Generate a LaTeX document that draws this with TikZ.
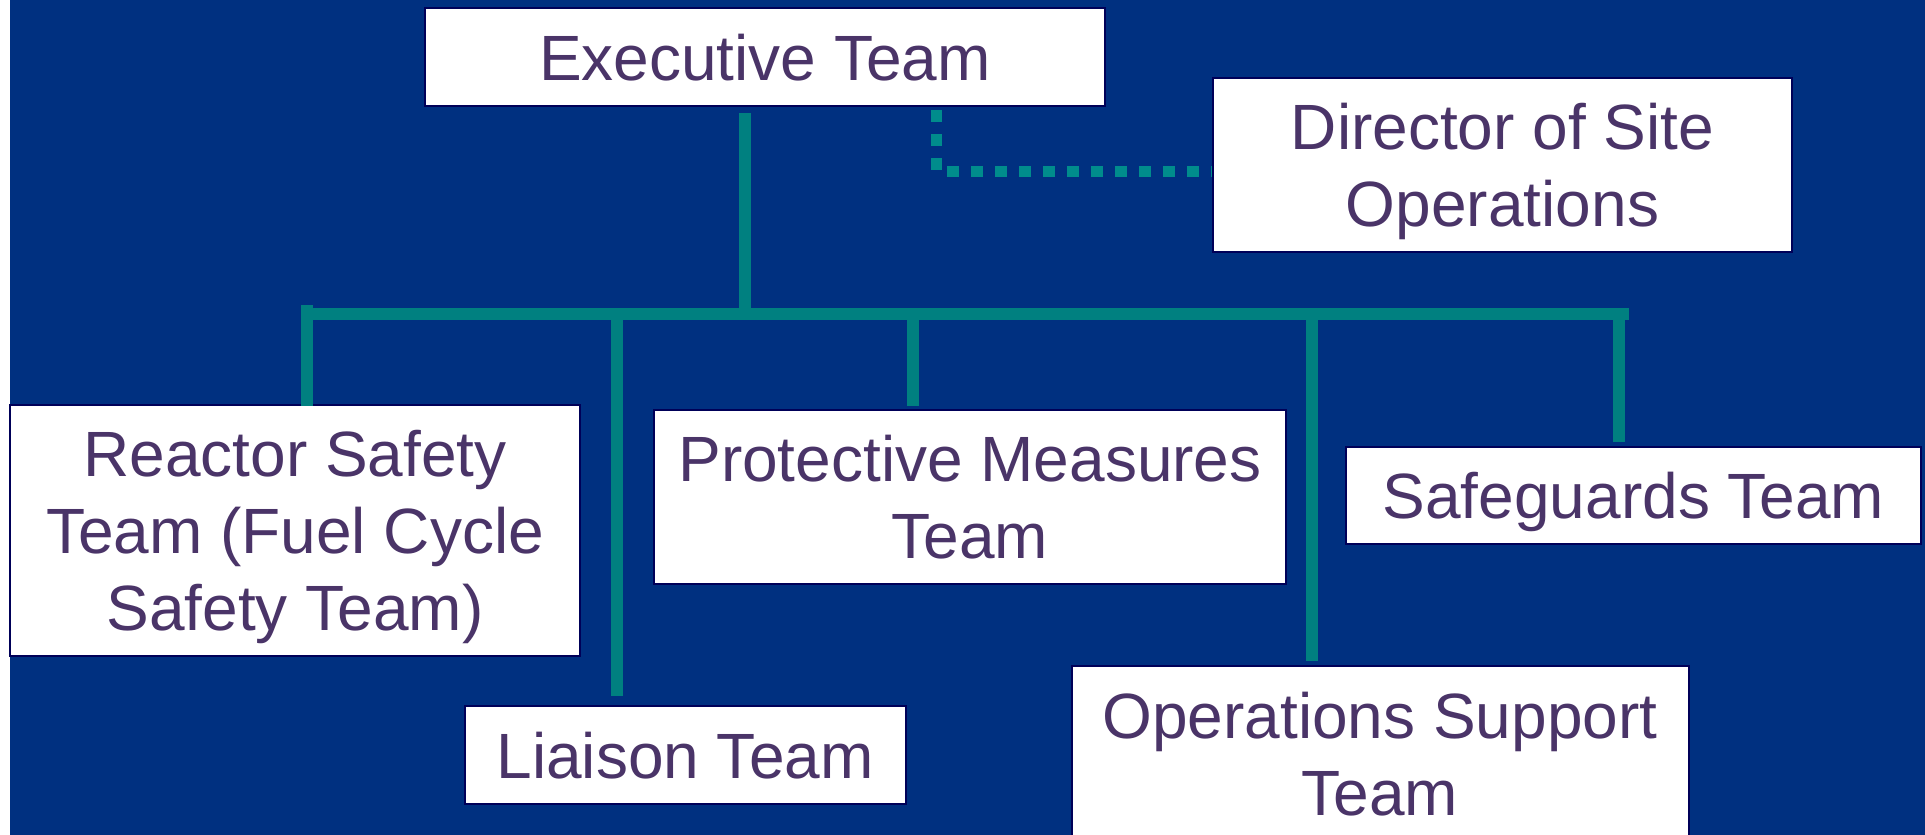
\documentclass[tikz,border=0pt]{standalone}
\usepackage{fontspec}
\setmainfont{Liberation Sans}
\definecolor{bgblue}{HTML}{003080}
\definecolor{linecol}{HTML}{008080}
\definecolor{dotcol}{HTML}{008C8C}
\definecolor{txtcol}{HTML}{4A3468}
\definecolor{edgecol}{HTML}{000058}
\begin{document}
\begin{tikzpicture}[x=1pt,y=-1pt,
  box/.style={draw=edgecol,line width=2pt,fill=white,text=txtcol,inner sep=0pt,
    align=center,text depth=0pt,font=\fontsize{64}{77}\selectfont},
  tree/.style={draw=linecol,line width=12pt},
  dotline/.style={draw=dotcol,line width=11pt,dash pattern=on 12pt off 12pt}]
\useasboundingbox (0,0) rectangle (1925,835);
\fill[white] (0,0) rectangle (1925,835);
\fill[bgblue] (10,0) rectangle (1925,835);

% boxes
\node[box,minimum width=680pt,minimum height=98pt] (exec) at (765,57) {Executive Team};
\node[box,minimum width=579pt,minimum height=174pt] (dir) at (1502.5,165) {Director of Site\\Operations};
\node[box,minimum width=570pt,minimum height=251pt] (reactor) at (295,530.5) {Reactor Safety\\Team (Fuel Cycle\\Safety Team)};
\node[box,minimum width=441pt,minimum height=98pt] (liaison) at (685,755) {Liaison Team};
\node[box,minimum width=632pt,minimum height=174pt] (prot) at (970,497) {Protective Measures\\Team};
\node[box,minimum width=575pt,minimum height=97pt] (safe) at (1633.5,495.5) {Safeguards Team};
\node[box,minimum width=617pt,minimum height=176pt] (ops) at (1380,754) {Operations Support\\Team};

% tree coordinates on the bar
\coordinate (bl) at (302,314);
\coordinate (br) at (1629,314);
\coordinate (t0) at (745,308);
\coordinate (t1) at (307,305);
\coordinate (t2) at (617,314);
\coordinate (t3) at (913,314);
\coordinate (t4) at (1312,314);
\coordinate (t5) at (1619,314);

\draw[tree] (bl) -- (br);
\draw[tree,shorten <=6pt] (exec.south -| t0) -- (t0);
\draw[tree,shorten >=-2pt] (t1) -- (t1 |- reactor.north);
\draw[tree,shorten >=9pt] (t2) -- (t2 |- liaison.north);
\draw[tree,shorten >=3pt] (t3) -- (t3 |- prot.north);
\draw[tree,shorten >=4pt] (t4) -- (t4 |- ops.north);
\draw[tree,shorten >=4pt] (t5) -- (t5 |- safe.north);

% dotted link
\coordinate (d0) at (936,110);
\coordinate (d1) at (936,171);
\draw[dotline] (d0) -- (d1) -- (d1 -| dir.west);
\end{tikzpicture}
\end{document}
